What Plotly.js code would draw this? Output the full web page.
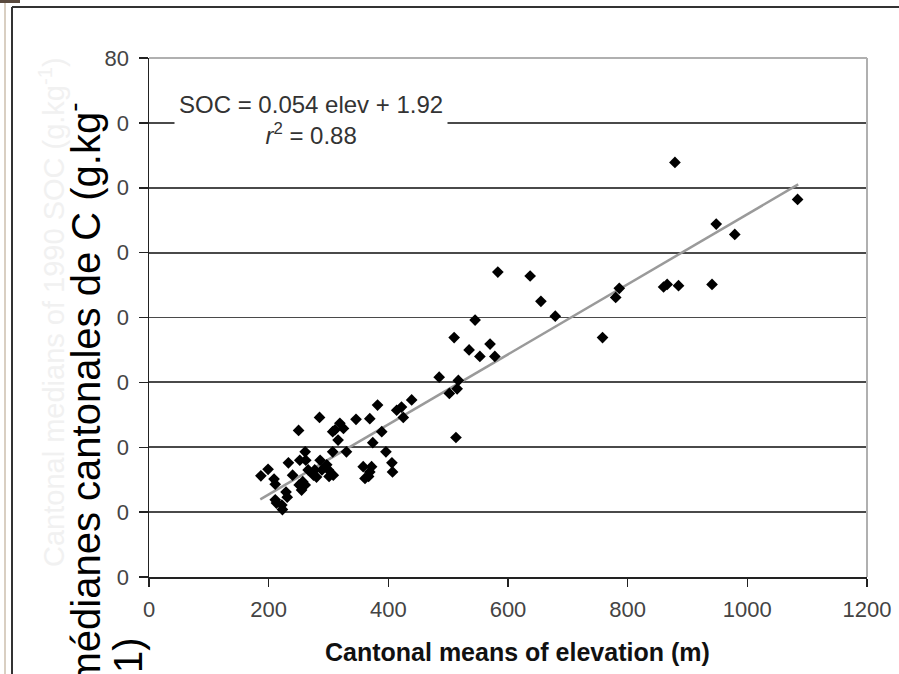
<!DOCTYPE html>
<html>
<head>
<meta charset="utf-8">
<script src="https://cdn.plot.ly/plotly-3.0.1.min.js"></script>
<style>html,body{margin:0;padding:0;background:#fff;}#chart{width:899px;height:674px;}</style>
</head>
<body>
<div id="chart"></div>
<script>
// Cantonal mean elevation (m) and cantonal median SOC (g/kg)
const elevation = [
  187, 199, 209, 211, 211, 213, 222, 223, 229, 231, 233, 240, 250, 252, 251, 255, 257, 261, 262, 261,
  266, 275, 277, 280, 285, 286, 289, 297, 300, 301, 308, 307, 311, 316, 319, 325, 307, 330, 346, 358,
  361, 367, 369, 372, 369, 374, 382, 389, 396, 406, 407, 414, 422, 425, 439,
  485, 502, 515, 517, 513, 510, 535, 553, 578, 570, 545, 583, 637, 655, 679,
  758, 780, 786, 860, 866, 885, 941, 879, 948, 979, 1084
];
const soc = [
  15.6, 16.6, 15.1, 14.3, 11.9, 11.4, 11.1, 10.4, 13.1, 12.3, 17.6, 15.7, 22.6, 18.0, 14.2, 13.4, 14.7, 19.3, 18.0, 14.2,
  16.5, 15.7, 16.5, 15.4, 24.6, 18.0, 16.5, 17.3, 16.5, 15.5, 15.7, 22.4, 22.7, 21.1, 23.7, 22.9, 19.3, 19.3, 24.3, 17.0,
  15.2, 15.5, 16.2, 17.0, 24.4, 20.7, 26.5, 22.4, 19.3, 17.6, 16.2, 25.7, 26.2, 24.6, 27.3,
  30.8, 28.3, 29.0, 30.3, 21.5, 36.9, 35.0, 34.0, 34.0, 35.9, 39.6, 47.0, 46.4, 42.5, 40.2,
  36.9, 43.1, 44.5, 44.7, 45.1, 44.9, 45.1, 63.9, 54.4, 52.8, 58.2
];
// Regression line end points (SOC = 0.054 elev + 1.92)
const trendX = [186, 1085];
const trendY = [11.96, 60.51];

const xTickVals = [0, 200, 400, 600, 800, 1000, 1200];
const xTickText = ["0", "200", "400", "600", "800", "1000", "1200"];
const yTickVals = [0, 10, 20, 30, 40, 50, 60, 70, 80];
const yTickText = ["0", "0", "0", "0", "0", "0", "0", "0", "80"];

const W = 899, H = 674, L = 149, R = 32, T = 58, B = 97;
const PW = W - L - R, PH = H - T - B;
const px = v => (v - L) / PW;
const py = v => (H - B - v) / PH;

const traces = [
  {
    x: trendX, y: trendY, type: 'scatter', mode: 'lines',
    line: {color: '#9a9a9a', width: 2.5}, hoverinfo: 'skip', showlegend: false
  },
  {
    x: elevation, y: soc, type: 'scatter', mode: 'markers',
    marker: {symbol: 'diamond', size: 9, color: '#000'}, showlegend: false
  }
];

const tickFont = {family: 'Liberation Sans, Arial, sans-serif', size: 22, color: '#444'};

const layout = {
  width: W, height: H,
  margin: {l: L, r: R, t: T, b: B, pad: 0},
  paper_bgcolor: '#fff', plot_bgcolor: '#fff',
  showlegend: false,
  xaxis: {
    range: [0, 1200], tickvals: xTickVals, ticktext: xTickText,
    showgrid: false, zeroline: false,
    showline: true, linecolor: '#222', linewidth: 1.5,
    ticks: 'outside', ticklen: 8, tickwidth: 1.5, tickcolor: '#222',
    tickfont: tickFont, ticklabelstandoff: 4,
    automargin: false, fixedrange: true
  },
  yaxis: {
    range: [0, 80], tickvals: yTickVals, ticktext: yTickText,
    showgrid: true, gridcolor: '#4a4a4a', gridwidth: 1.8, zeroline: false,
    showline: true, linecolor: '#222', linewidth: 1.5,
    ticks: 'outside', ticklen: 9, tickwidth: 1.5, tickcolor: '#222',
    tickfont: tickFont, ticklabelstandoff: 5,
    automargin: false, fixedrange: true
  },
  shapes: [
    // light plot border top and right
    {type: 'line', xref: 'paper', yref: 'paper', x0: 0, x1: 1, y0: 1, y1: 1, line: {color: '#b0b0b0', width: 2}},
    {type: 'line', xref: 'paper', yref: 'paper', x0: 1, x1: 1, y0: 0, y1: 1, line: {color: '#b0b0b0', width: 2}},
    // scanned page frame
    {type: 'line', xref: 'paper', yref: 'paper', x0: px(5), x1: px(5), y0: py(0), y1: py(674), line: {color: '#cdbfae', width: 1.5}},
    {type: 'line', xref: 'paper', yref: 'paper', x0: px(12), x1: px(12), y0: py(7), y1: py(674), line: {color: '#333', width: 2}},
    {type: 'line', xref: 'paper', yref: 'paper', x0: px(12), x1: px(899), y0: py(7), y1: py(7), line: {color: '#333', width: 2}},
    {type: 'rect', xref: 'paper', yref: 'paper', x0: px(0), x1: px(20), y0: py(0), y1: py(3), line: {width: 0}, fillcolor: '#5a4a3e'}
  ],
  annotations: [
    {
      xref: 'x', yref: 'y', x: 270, y: 70.4, showarrow: false, align: 'center',
      xanchor: 'center', yanchor: 'middle',
      text: 'SOC = 0.054 elev + 1.92<br><i>r</i><sup>2</sup> = 0.88',
      font: {family: 'Liberation Sans, Arial, sans-serif', size: 24, color: '#333'},
      bgcolor: '#fff', borderpad: 4
    },
    {
      // x-axis title
      xref: 'paper', yref: 'paper', x: px(517), y: py(652), xanchor: 'center', yanchor: 'middle',
      showarrow: false,
      text: '<b>Cantonal means of elevation (m)</b>',
      font: {family: 'Liberation Sans, Arial, sans-serif', size: 25, color: '#111'}
    },
    {
      xref: 'paper', yref: 'paper', x: px(52), y: py(312), xanchor: 'center', yanchor: 'middle',
      showarrow: false, textangle: -90,
      text: 'Cantonal medians of 1990 SOC (g.kg<sup>-1</sup>)',
      font: {family: 'Liberation Sans, Arial, sans-serif', size: 29, color: '#f1f1f1'}
    },
    {
      xref: 'paper', yref: 'paper', x: px(83), y: py(688), xanchor: 'center', yanchor: 'bottom',
      showarrow: false, textangle: -90,
      text: 'médianes cantonales de C (g.kg<sup>-</sup>',
      font: {family: 'Liberation Sans, Arial, sans-serif', size: 40, color: '#000'}
    },
    {
      xref: 'paper', yref: 'paper', x: px(128), y: py(675), xanchor: 'center', yanchor: 'bottom',
      showarrow: false, textangle: -90,
      text: '1)',
      font: {family: 'Liberation Sans, Arial, sans-serif', size: 40, color: '#000'}
    }
  ]
};

Plotly.newPlot('chart', traces, layout, {staticPlot: true, displayModeBar: false});
</script>
</body>
</html>
